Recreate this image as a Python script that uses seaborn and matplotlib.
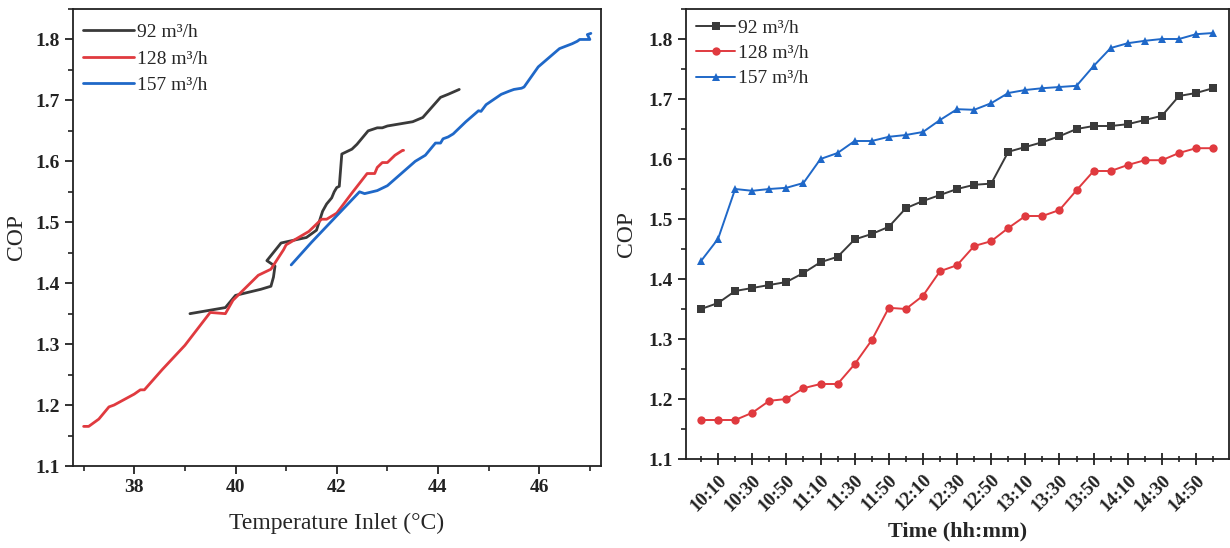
import matplotlib
matplotlib.use("Agg")
import matplotlib.pyplot as plt
import seaborn as sns
import pandas as pd
from matplotlib.ticker import MultipleLocator, FixedLocator

# ---------------- data ----------------
series_names = ["92 m³/h", "128 m³/h", "157 m³/h"]

times = ["10:00", "10:10", "10:20", "10:30", "10:40", "10:50", "11:00", "11:10",
         "11:20", "11:30", "11:40", "11:50", "12:00", "12:10", "12:20", "12:30",
         "12:40", "12:50", "13:00", "13:10", "13:20", "13:30", "13:40", "13:50",
         "14:00", "14:10", "14:20", "14:30", "14:40", "14:50", "15:00"]

cop_92 = [1.350, 1.360, 1.380, 1.385, 1.390, 1.395, 1.410, 1.428, 1.437, 1.466,
          1.475, 1.487, 1.518, 1.530, 1.540, 1.550, 1.557, 1.559, 1.612, 1.620,
          1.628, 1.638, 1.650, 1.655, 1.655, 1.658, 1.665, 1.672, 1.705, 1.710,
          1.718]
cop_128 = [1.165, 1.165, 1.165, 1.177, 1.197, 1.200, 1.218, 1.225, 1.225, 1.258,
           1.298, 1.352, 1.350, 1.372, 1.413, 1.423, 1.455, 1.463, 1.485, 1.505,
           1.505, 1.515, 1.548, 1.580, 1.580, 1.590, 1.598, 1.598, 1.610, 1.618,
           1.618]
cop_157 = [1.430, 1.467, 1.550, 1.547, 1.550, 1.552, 1.560, 1.600, 1.610, 1.630,
           1.630, 1.637, 1.640, 1.645, 1.665, 1.683, 1.682, 1.693, 1.710, 1.715,
           1.718, 1.720, 1.722, 1.755, 1.785, 1.793, 1.797, 1.800, 1.800, 1.808,
           1.810]

temp_92 = [39.10, 39.80, 40.00, 40.25, 40.50, 40.70, 40.75, 40.78, 40.62, 40.90,
           41.40, 41.60, 41.72, 41.80, 41.90, 41.95, 42.00, 42.05, 42.10, 42.30,
           42.40, 42.50, 42.62, 42.80, 42.90, 43.00, 43.50, 43.70, 44.05, 44.20,
           44.42]
temp_128 = [37.00, 37.05, 37.10, 37.30, 37.50, 37.60, 38.00, 38.12, 38.20, 38.55,
            39.00, 39.50, 39.80, 39.95, 40.45, 40.70, 40.95, 41.00, 41.45, 41.70,
            41.80, 42.00, 42.30, 42.60, 42.75, 42.80, 42.90, 43.00, 43.15, 43.30,
            43.32]
temp_157 = [41.10, 41.50, 42.45, 42.55, 42.70, 42.80, 43.00, 43.55, 43.75, 43.95,
            44.05, 44.10, 44.20, 44.30, 44.55, 44.80, 44.85, 44.95, 45.25, 45.40,
            45.50, 45.65, 45.70, 45.98, 46.40, 46.65, 46.75, 46.80, 47.00, 46.95,
            47.02]

colors = ["#3a3a3a", "#e03a3f", "#1f68c8"]
markers = ["s", "o", "^"]

# ---------------- build tables ----------------
rows = []
for name, cops, temps in zip(series_names, [cop_92, cop_128, cop_157],
                             [temp_92, temp_128, temp_157]):
    for i, (c, t) in enumerate(zip(cops, temps)):
        rows.append({"series": name, "idx": i, "time": times[i], "COP": c, "T": t})
df = pd.DataFrame(rows)

sns.set_theme(style="ticks")
plt.rcParams["font.family"] = ["Liberation Serif", "DejaVu Serif"]
plt.rcParams["axes.edgecolor"] = "#222222"
plt.rcParams["axes.linewidth"] = 1.3
plt.rcParams["xtick.color"] = "#222222"
plt.rcParams["ytick.color"] = "#222222"

fig = plt.figure(figsize=(12.3, 5.48), dpi=100)
ax1 = fig.add_axes([73 / 1230, 1 - 466 / 548, (601 - 73) / 1230, (466 - 9) / 548])
ax2 = fig.add_axes([686 / 1230, 1 - 459 / 548, (1229 - 686) / 1230, (459 - 9) / 548])

palette = dict(zip(series_names, colors))

# ---------------- left panel ----------------
sns.lineplot(data=df, x="T", y="COP", hue="series", palette=palette, sort=False,
             estimator=None, linewidth=2.0, ax=ax1)
ax1.set_xlim(36.79, 47.22)
ax1.set_ylim(1.1, 1.85)
ax1.xaxis.set_major_locator(FixedLocator([38, 40, 42, 44, 46]))
ax1.xaxis.set_minor_locator(FixedLocator([37, 39, 41, 43, 45, 47]))
ax1.yaxis.set_major_locator(FixedLocator([1.1, 1.2, 1.3, 1.4, 1.5, 1.6, 1.7, 1.8]))
ax1.yaxis.set_minor_locator(MultipleLocator(0.05))
ax1.tick_params(which="major", direction="out", length=6, width=1.3)
ax1.tick_params(which="minor", direction="out", length=3.5, width=1.2)
for lab in ax1.get_xticklabels() + ax1.get_yticklabels():
    lab.set_fontweight("bold")
    lab.set_fontsize(14)
ax1.set_xlabel("Temperature Inlet (°C)", fontsize=17, labelpad=12)
ax1.set_ylabel("COP", fontsize=17, labelpad=6)
leg1 = ax1.legend(loc="upper left", frameon=False, fontsize=14, handlelength=2.6,
                  handletextpad=0.15, labelspacing=0.45, borderaxespad=0.0,
                  bbox_to_anchor=(0.005, 0.985))

# ---------------- right panel ----------------
sns.lineplot(data=df, x="idx", y="COP", hue="series", style="series",
             palette=palette, markers=dict(zip(series_names, markers)),
             dashes=False, markersize=6, markeredgewidth=0, linewidth=1.4,
             ax=ax2)
ax2.set_xlim(-0.88, 30.93)
ax2.set_ylim(1.1, 1.85)
ax2.xaxis.set_major_locator(FixedLocator(list(range(1, 31, 2))))
ax2.xaxis.set_minor_locator(FixedLocator(list(range(0, 31, 2))))
ax2.set_xticklabels([times[i] for i in range(1, 31, 2)], rotation=45,
                    ha="right", rotation_mode="anchor", fontweight="bold", fontsize=13.5)
ax2.yaxis.set_major_locator(FixedLocator([1.1, 1.2, 1.3, 1.4, 1.5, 1.6, 1.7, 1.8]))
ax2.yaxis.set_minor_locator(MultipleLocator(0.05))
ax2.tick_params(axis="x", which="major", direction="inout", length=8, width=1.3, pad=5)
ax2.tick_params(axis="x", which="minor", direction="inout", length=5, width=1.2)
ax2.tick_params(axis="y", which="major", direction="out", length=6, width=1.3)
ax2.tick_params(axis="y", which="minor", direction="out", length=3.5, width=1.2)
for lab in ax2.get_yticklabels():
    lab.set_fontweight("bold")
    lab.set_fontsize(14)
ax2.set_xlabel("Time (hh:mm)", fontsize=16, fontweight="bold", labelpad=5)
ax2.set_ylabel("COP", fontsize=17, labelpad=8)
leg2 = ax2.legend(loc="upper left", frameon=False, fontsize=14, handlelength=2.0,
                  handletextpad=0.15, labelspacing=0.4, borderaxespad=0.0,
                  bbox_to_anchor=(0.005, 0.995))

fig.savefig("out.png", dpi=100)
